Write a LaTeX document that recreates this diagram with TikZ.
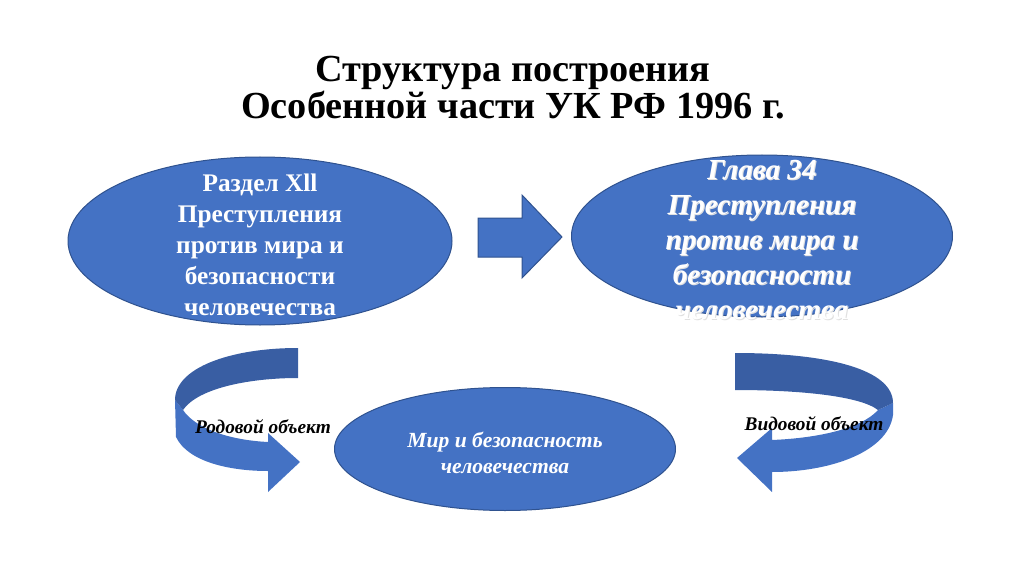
\documentclass[tikz,border=0pt]{standalone}
\usepackage{fontspec}
\setmainfont{Liberation Serif}
\usetikzlibrary{shapes.geometric}

\definecolor{boxblue}{RGB}{68,114,196}
\definecolor{edgeblue}{RGB}{47,82,143}
\definecolor{backblue}{RGB}{57,94,163}

\tikzset{every picture/.style={line width=0.75pt}}
\tikzset{
  oval/.style={ellipse, draw=edgeblue, fill=boxblue, inner sep=0pt},
  ovaltext/.style={text=white, align=center, font=\bfseries},
  ribbon/.style={fill=boxblue, draw=none},
  ribbonback/.style={fill=backblue, draw=none},
  arrowlabel/.style={font=\fontsize{14.5}{17}\selectfont\bfseries\itshape, text=black}
}

\begin{document}
\begin{tikzpicture}[x=0.75pt,y=0.75pt,yscale=-1,xscale=1]
\useasboundingbox (0,0) rectangle (1024,574);

% Title
\node [align=center, font=\fontsize{28.7}{26.5}\selectfont\bfseries] (title) at (513,88)
  {Структура построения\\Особенной части УК РФ 1996 г.};

% Ellipses
\node [oval, minimum width=288pt, minimum height=126pt] (razdel) at (260,241) {};
\node [oval, minimum width=285.75pt, minimum height=121.5pt] (glava) at (762,236) {};
\node [oval, minimum width=255.75pt, minimum height=92.25pt] (obj) at (505,449) {};

% Text Node
\node [ovaltext, font=\fontsize{19}{23.3}\selectfont\bfseries] (razdeltext) at (260,245)
  {Раздел Xll\\Преступления\\против мира и\\безопасности\\человечества};
% Text Node
\node [ovaltext, text=black!12, font=\fontsize{21.8}{26.3}\selectfont\bfseries\itshape] (glavashadow) at (763,241)
  {Глава 34\\Преступления\\против мира и\\безопасности\\человечества};
\node [ovaltext, font=\fontsize{21.8}{26.3}\selectfont\bfseries\itshape] (glavatext) at (762,240)
  {Глава 34\\Преступления\\против мира и\\безопасности\\человечества};
% Text Node
\node [ovaltext, font=\fontsize{16.2}{20}\selectfont\bfseries\itshape] (objtext) at (505,453)
  {Мир и безопасность\\человечества};

% Block arrow
\draw [fill=boxblue, draw=edgeblue] (478,218) -- (522,218) -- (522,195) -- (562,237)
  -- (522,278) -- (522,257) -- (478,257) -- cycle;

% Left curved arrow
\path [ribbon] (175,400) -- (176,437) .. controls (188,462) and (230,471) .. (268,471)
  -- (268,492) -- (300,462) -- (268,433) -- (268,442)
  .. controls (228,440) and (195,428) .. (183,410) -- cycle;
\path [ribbonback] (298,348) .. controls (230,348) and (175,368) .. (175,400)
  -- (183,410) .. controls (198,388) and (250,378) .. (298,378) -- cycle;

% Right curved arrow
\path [ribbon] (893,403) -- (893,415) .. controls (888,452) and (830,472) .. (772,472)
  -- (772,492) -- (737,458) -- (772,428) -- (772,440)
  .. controls (820,438) and (862,428) .. (878,410) -- cycle;
\path [ribbonback] (735,353) .. controls (830,353) and (893,370) .. (893,403)
  -- (878,410) .. controls (860,396) and (800,390) .. (735,390) -- cycle;

% Labels
\node [arrowlabel] (rodlabel) at (263,427) {Родовой объект};
\node [arrowlabel] (vidlabel) at (814,424) {Видовой объект};

\end{tikzpicture}
\end{document}
